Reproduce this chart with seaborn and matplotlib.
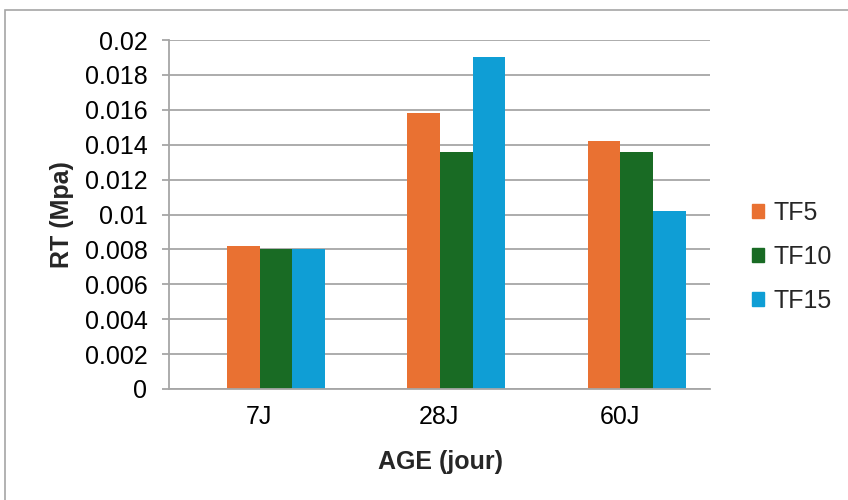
import matplotlib
matplotlib.use("Agg")
import matplotlib.pyplot as plt
import matplotlib.patches as mpatches
import seaborn as sns
import pandas as pd

ages = ["7J", "28J", "60J"]
series_names = ["TF5", "TF10", "TF15"]
tf5 = [0.0082, 0.0158, 0.0142]
tf10 = [0.0080, 0.0136, 0.0136]
tf15 = [0.0080, 0.0190, 0.0102]
yticks = [0, 0.002, 0.004, 0.006, 0.008, 0.01, 0.012, 0.014, 0.016, 0.018, 0.02]
ytick_labels = ["0", "0.002", "0.004", "0.006", "0.008", "0.01", "0.012",
                "0.014", "0.016", "0.018", "0.02"]
colors = ["#E97132", "#196B24", "#0F9ED5"]

df = pd.DataFrame({
    "AGE": ages * 3,
    "serie": [s for s in series_names for _ in ages],
    "RT": tf5 + tf10 + tf15,
})

sns.set_theme(style="white")
plt.rcParams["font.family"] = ["Liberation Sans", "DejaVu Sans"]

FS = 18
GRID = "#A6A6A6"

fig = plt.figure(figsize=(8.48, 5.0), dpi=100)
x0, x1, y_top, y_bot = 169, 710, 40, 389
ax = fig.add_axes([x0 / 848, 1 - y_bot / 500, (x1 - x0) / 848, (y_bot - y_top) / 500])

sns.barplot(data=df, x="AGE", y="RT", hue="serie", order=ages,
            hue_order=series_names, palette=colors, width=0.543,
            saturation=1, ax=ax, legend=False, edgecolor="none", linewidth=0)

# category band layout: bar clusters sit slightly right of the label positions
left = -0.5935
ax.set_xlim(left, left + 3.0)
ax.set_xticks([i - 0.094 for i in range(len(ages))])
ax.set_xticklabels(ages)

ax.set_ylim(0, 0.02)
ax.set_yticks(yticks)
ax.set_yticklabels(ytick_labels)
ax.yaxis.grid(True, color=GRID, linewidth=1.3)
ax.set_axisbelow(True)
for side in ["right", "top"]:
    ax.spines[side].set_visible(False)
for side in ["left", "bottom"]:
    ax.spines[side].set_color(GRID)
    ax.spines[side].set_linewidth(1.3)
ax.tick_params(axis="y", direction="out", length=5, width=1.3, color=GRID,
               labelsize=FS, labelcolor="black", pad=10.5, left=True)
ax.tick_params(axis="x", length=0, labelsize=FS, labelcolor="black", pad=11.5)

ax.set_xlabel("AGE (jour)", fontsize=FS, fontweight="bold", va="center")
ax.xaxis.set_label_coords((440 - x0) / (x1 - x0), -(462 - y_bot) / (y_bot - y_top))
ax.set_ylabel("RT (Mpa)", fontsize=FS, fontweight="bold", va="center")
ax.yaxis.set_label_coords(-(x0 - 62) / (x1 - x0), 0.5)

handles = [mpatches.Patch(color=c, label=s) for c, s in zip(colors, series_names)]
fig.legend(handles=handles, loc="center left",
           bbox_to_anchor=(752 / 848, 1 - 257 / 500), frameon=False,
           fontsize=FS, handlelength=0.48, handleheight=0.48,
           handletextpad=0.36, labelspacing=0.8, borderaxespad=0,
           borderpad=0)

# outer chart border
fig.patches.append(mpatches.Rectangle((5 / 848, -0.1), 1.2, 1 - 10 / 500 + 0.1,
                                      transform=fig.transFigure, fill=False,
                                      edgecolor=GRID, linewidth=1.2))

fig.savefig("out.png", dpi=100)
